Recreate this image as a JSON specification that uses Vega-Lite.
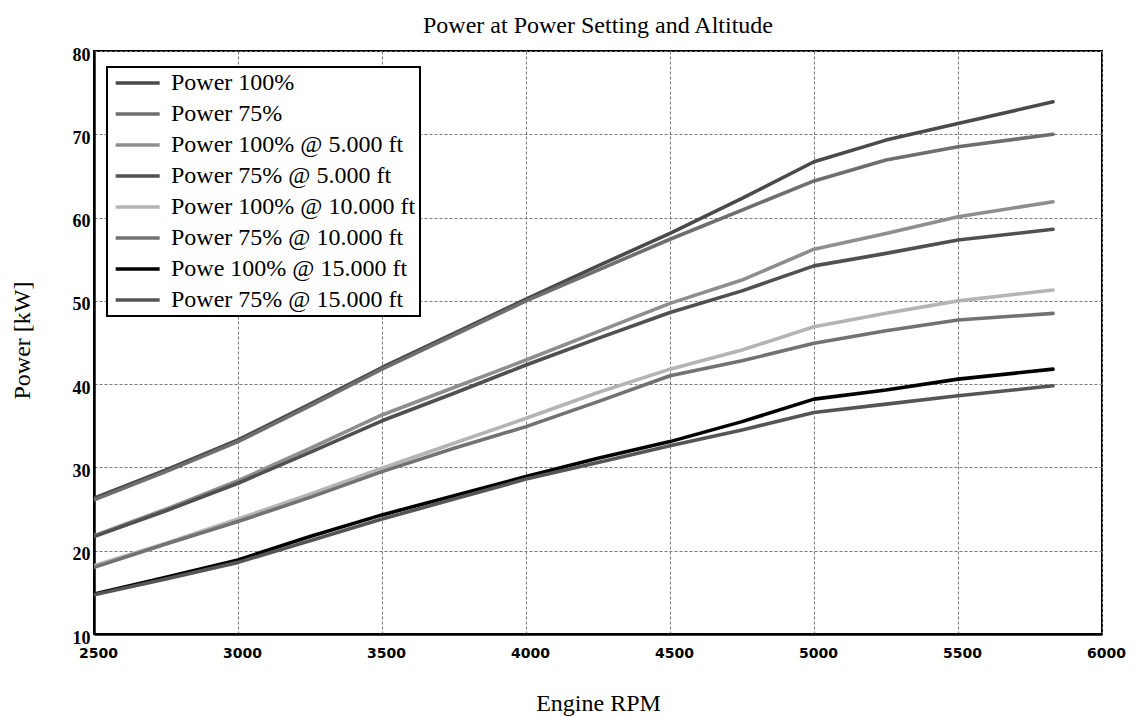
{
  "$schema": "https://vega.github.io/schema/vega-lite/v6.json",
  "autosize": {"type": "none"},
  "padding": {"left": 94, "top": 51, "right": 37, "bottom": 83},
  "width": 1008,
  "height": 583,
  "background": "white",
  "title": {"text": "Power at Power Setting and Altitude", "font": "Liberation Serif", "fontSize": 24, "fontWeight": "normal", "color": "black", "anchor": "middle", "frame": "group", "baseline": "alphabetic", "offset": 20, "dy": 31},
  "config": {
    "view": {"stroke": "black", "strokeWidth": 2},
    "axis": {"gridColor": "#7a7a7a", "gridDash": [3, 2], "gridWidth": 1, "domainColor": "black", "domainWidth": 2.5, "labelColor": "black", "titleColor": "black", "ticks": false, "labelFlush": false, "labelOverlap": false}
  },
  "data": {"values": [
    {"s": "Power 100%", "rpm": 2500, "p": 26.3}, {"s": "Power 100%", "rpm": 2750, "p": 29.7}, {"s": "Power 100%", "rpm": 3000, "p": 33.3}, {"s": "Power 100%", "rpm": 3250, "p": 37.6}, {"s": "Power 100%", "rpm": 3500, "p": 42.0}, {"s": "Power 100%", "rpm": 3750, "p": 46.1}, {"s": "Power 100%", "rpm": 4000, "p": 50.2}, {"s": "Power 100%", "rpm": 4250, "p": 54.2}, {"s": "Power 100%", "rpm": 4500, "p": 58.1}, {"s": "Power 100%", "rpm": 4750, "p": 62.3}, {"s": "Power 100%", "rpm": 5000, "p": 66.7}, {"s": "Power 100%", "rpm": 5250, "p": 69.3}, {"s": "Power 100%", "rpm": 5500, "p": 71.3}, {"s": "Power 100%", "rpm": 5830, "p": 73.9},
    {"s": "Power 75%", "rpm": 2500, "p": 26.1}, {"s": "Power 75%", "rpm": 2750, "p": 29.5}, {"s": "Power 75%", "rpm": 3000, "p": 33.1}, {"s": "Power 75%", "rpm": 3250, "p": 37.4}, {"s": "Power 75%", "rpm": 3500, "p": 41.8}, {"s": "Power 75%", "rpm": 3750, "p": 45.9}, {"s": "Power 75%", "rpm": 4000, "p": 50.0}, {"s": "Power 75%", "rpm": 4250, "p": 53.7}, {"s": "Power 75%", "rpm": 4500, "p": 57.4}, {"s": "Power 75%", "rpm": 4750, "p": 60.9}, {"s": "Power 75%", "rpm": 5000, "p": 64.4}, {"s": "Power 75%", "rpm": 5250, "p": 66.9}, {"s": "Power 75%", "rpm": 5500, "p": 68.5}, {"s": "Power 75%", "rpm": 5830, "p": 70.0},
    {"s": "Power 100% @ 5.000 ft", "rpm": 2500, "p": 21.8}, {"s": "Power 100% @ 5.000 ft", "rpm": 2750, "p": 25.0}, {"s": "Power 100% @ 5.000 ft", "rpm": 3000, "p": 28.4}, {"s": "Power 100% @ 5.000 ft", "rpm": 3250, "p": 32.3}, {"s": "Power 100% @ 5.000 ft", "rpm": 3500, "p": 36.3}, {"s": "Power 100% @ 5.000 ft", "rpm": 3750, "p": 39.6}, {"s": "Power 100% @ 5.000 ft", "rpm": 4000, "p": 42.9}, {"s": "Power 100% @ 5.000 ft", "rpm": 4250, "p": 46.3}, {"s": "Power 100% @ 5.000 ft", "rpm": 4500, "p": 49.7}, {"s": "Power 100% @ 5.000 ft", "rpm": 4750, "p": 52.5}, {"s": "Power 100% @ 5.000 ft", "rpm": 5000, "p": 56.2}, {"s": "Power 100% @ 5.000 ft", "rpm": 5250, "p": 58.1}, {"s": "Power 100% @ 5.000 ft", "rpm": 5500, "p": 60.1}, {"s": "Power 100% @ 5.000 ft", "rpm": 5830, "p": 61.9},
    {"s": "Power 75% @ 5.000 ft", "rpm": 2500, "p": 21.7}, {"s": "Power 75% @ 5.000 ft", "rpm": 2750, "p": 24.8}, {"s": "Power 75% @ 5.000 ft", "rpm": 3000, "p": 28.1}, {"s": "Power 75% @ 5.000 ft", "rpm": 3250, "p": 31.8}, {"s": "Power 75% @ 5.000 ft", "rpm": 3500, "p": 35.6}, {"s": "Power 75% @ 5.000 ft", "rpm": 3750, "p": 38.9}, {"s": "Power 75% @ 5.000 ft", "rpm": 4000, "p": 42.3}, {"s": "Power 75% @ 5.000 ft", "rpm": 4250, "p": 45.5}, {"s": "Power 75% @ 5.000 ft", "rpm": 4500, "p": 48.6}, {"s": "Power 75% @ 5.000 ft", "rpm": 4750, "p": 51.2}, {"s": "Power 75% @ 5.000 ft", "rpm": 5000, "p": 54.2}, {"s": "Power 75% @ 5.000 ft", "rpm": 5250, "p": 55.7}, {"s": "Power 75% @ 5.000 ft", "rpm": 5500, "p": 57.3}, {"s": "Power 75% @ 5.000 ft", "rpm": 5830, "p": 58.6},
    {"s": "Power 100% @ 10.000 ft", "rpm": 2500, "p": 18.2}, {"s": "Power 100% @ 10.000 ft", "rpm": 2750, "p": 20.9}, {"s": "Power 100% @ 10.000 ft", "rpm": 3000, "p": 23.8}, {"s": "Power 100% @ 10.000 ft", "rpm": 3250, "p": 26.8}, {"s": "Power 100% @ 10.000 ft", "rpm": 3500, "p": 29.9}, {"s": "Power 100% @ 10.000 ft", "rpm": 3750, "p": 32.9}, {"s": "Power 100% @ 10.000 ft", "rpm": 4000, "p": 35.9}, {"s": "Power 100% @ 10.000 ft", "rpm": 4250, "p": 39.0}, {"s": "Power 100% @ 10.000 ft", "rpm": 4500, "p": 41.8}, {"s": "Power 100% @ 10.000 ft", "rpm": 4750, "p": 44.1}, {"s": "Power 100% @ 10.000 ft", "rpm": 5000, "p": 46.9}, {"s": "Power 100% @ 10.000 ft", "rpm": 5250, "p": 48.5}, {"s": "Power 100% @ 10.000 ft", "rpm": 5500, "p": 50.0}, {"s": "Power 100% @ 10.000 ft", "rpm": 5830, "p": 51.3},
    {"s": "Power 75% @ 10.000 ft", "rpm": 2500, "p": 18.0}, {"s": "Power 75% @ 10.000 ft", "rpm": 2750, "p": 20.8}, {"s": "Power 75% @ 10.000 ft", "rpm": 3000, "p": 23.5}, {"s": "Power 75% @ 10.000 ft", "rpm": 3250, "p": 26.4}, {"s": "Power 75% @ 10.000 ft", "rpm": 3500, "p": 29.5}, {"s": "Power 75% @ 10.000 ft", "rpm": 3750, "p": 32.3}, {"s": "Power 75% @ 10.000 ft", "rpm": 4000, "p": 34.9}, {"s": "Power 75% @ 10.000 ft", "rpm": 4250, "p": 37.9}, {"s": "Power 75% @ 10.000 ft", "rpm": 4500, "p": 41.0}, {"s": "Power 75% @ 10.000 ft", "rpm": 4750, "p": 42.8}, {"s": "Power 75% @ 10.000 ft", "rpm": 5000, "p": 44.9}, {"s": "Power 75% @ 10.000 ft", "rpm": 5250, "p": 46.4}, {"s": "Power 75% @ 10.000 ft", "rpm": 5500, "p": 47.7}, {"s": "Power 75% @ 10.000 ft", "rpm": 5830, "p": 48.5},
    {"s": "Powe 100% @ 15.000 ft", "rpm": 2500, "p": 14.8}, {"s": "Powe 100% @ 15.000 ft", "rpm": 2750, "p": 16.8}, {"s": "Powe 100% @ 15.000 ft", "rpm": 3000, "p": 18.9}, {"s": "Powe 100% @ 15.000 ft", "rpm": 3250, "p": 21.7}, {"s": "Powe 100% @ 15.000 ft", "rpm": 3500, "p": 24.3}, {"s": "Powe 100% @ 15.000 ft", "rpm": 3750, "p": 26.6}, {"s": "Powe 100% @ 15.000 ft", "rpm": 4000, "p": 28.9}, {"s": "Powe 100% @ 15.000 ft", "rpm": 4250, "p": 31.1}, {"s": "Powe 100% @ 15.000 ft", "rpm": 4500, "p": 33.1}, {"s": "Powe 100% @ 15.000 ft", "rpm": 4750, "p": 35.5}, {"s": "Powe 100% @ 15.000 ft", "rpm": 5000, "p": 38.2}, {"s": "Powe 100% @ 15.000 ft", "rpm": 5250, "p": 39.3}, {"s": "Powe 100% @ 15.000 ft", "rpm": 5500, "p": 40.6}, {"s": "Powe 100% @ 15.000 ft", "rpm": 5830, "p": 41.8},
    {"s": "Power 75% @ 15.000 ft", "rpm": 2500, "p": 14.7}, {"s": "Power 75% @ 15.000 ft", "rpm": 2750, "p": 16.6}, {"s": "Power 75% @ 15.000 ft", "rpm": 3000, "p": 18.6}, {"s": "Power 75% @ 15.000 ft", "rpm": 3250, "p": 21.2}, {"s": "Power 75% @ 15.000 ft", "rpm": 3500, "p": 23.8}, {"s": "Power 75% @ 15.000 ft", "rpm": 3750, "p": 26.2}, {"s": "Power 75% @ 15.000 ft", "rpm": 4000, "p": 28.6}, {"s": "Power 75% @ 15.000 ft", "rpm": 4250, "p": 30.6}, {"s": "Power 75% @ 15.000 ft", "rpm": 4500, "p": 32.6}, {"s": "Power 75% @ 15.000 ft", "rpm": 4750, "p": 34.5}, {"s": "Power 75% @ 15.000 ft", "rpm": 5000, "p": 36.6}, {"s": "Power 75% @ 15.000 ft", "rpm": 5250, "p": 37.6}, {"s": "Power 75% @ 15.000 ft", "rpm": 5500, "p": 38.6}, {"s": "Power 75% @ 15.000 ft", "rpm": 5830, "p": 39.8}
  ]},
  "mark": {"type": "line", "strokeCap": "round", "strokeJoin": "round", "clip": true},
  "encoding": {
    "x": {"field": "rpm", "type": "quantitative", "scale": {"domain": [2500, 6000], "nice": false, "zero": false},
      "axis": {"values": [2500, 3000, 3500, 4000, 4500, 5000, 5500, 6000], "format": "d", "title": "Engine RPM", "titleFont": "Liberation Serif", "titleFontSize": 24, "titleFontWeight": "normal", "titleY": 69, "titleBaseline": "middle", "labelFont": "DejaVu Sans", "labelFontSize": 14, "labelFontWeight": "bold", "labelPadding": 12, "labelOffset": 4}},
    "y": {"field": "p", "type": "quantitative", "scale": {"domain": [10, 80], "nice": false, "zero": false},
      "axis": {"values": [10, 20, 30, 40, 50, 60, 70, 80], "format": "d", "title": "Power [kW]", "titleFont": "Liberation Serif", "titleFontSize": 24, "titleFontWeight": "normal", "titleX": -72, "titleY": 289, "titleAlign": "center", "titleBaseline": "middle", "titleAngle": -90, "labelFont": "Liberation Serif", "labelFontSize": 18, "labelFontWeight": "bold", "labelPadding": 4, "labelOffset": 4}},
    "color": {"field": "s", "type": "nominal",
      "scale": {"domain": ["Power 100%", "Power 75%", "Power 100% @ 5.000 ft", "Power 75% @ 5.000 ft", "Power 100% @ 10.000 ft", "Power 75% @ 10.000 ft", "Powe 100% @ 15.000 ft", "Power 75% @ 15.000 ft"],
                "range": ["#4a4a4a", "#6e6e6e", "#8e8e8e", "#505050", "#b4b4b4", "#727272", "#000000", "#555555"]},
      "legend": {"title": null, "orient": "none", "legendX": 13, "legendY": 16, "direction": "vertical", "padding": 4, "rowPadding": 7, "fillColor": "white", "strokeColor": "black", "labelFont": "Liberation Serif", "labelFontSize": 24, "labelColor": "black", "labelLimit": 400, "symbolType": "M-1,0H5", "symbolSize": 215, "labelOffset": 36, "symbolStrokeWidth": 4,
        "encode": {"legend": {"update": {"strokeWidth": {"value": 2}}}}}},
    "strokeWidth": {"field": "s", "type": "nominal",
      "scale": {"domain": ["Power 100%", "Power 75%", "Power 100% @ 5.000 ft", "Power 75% @ 5.000 ft", "Power 100% @ 10.000 ft", "Power 75% @ 10.000 ft", "Powe 100% @ 15.000 ft", "Power 75% @ 15.000 ft"],
                "range": [3.6, 3.6, 3.6, 3.6, 3.6, 3.6, 5.5, 3.6]},
      "legend": {"title": null, "orient": "none", "legendX": 13, "legendY": 16, "direction": "vertical", "padding": 4, "rowPadding": 7, "fillColor": "white", "strokeColor": "black", "labelFont": "Liberation Serif", "labelFontSize": 24, "labelColor": "black", "labelLimit": 400, "symbolType": "M-1,0H5", "symbolSize": 215, "labelOffset": 36,
        "encode": {"legend": {"update": {"strokeWidth": {"value": 2}}}}}}
  }
}
